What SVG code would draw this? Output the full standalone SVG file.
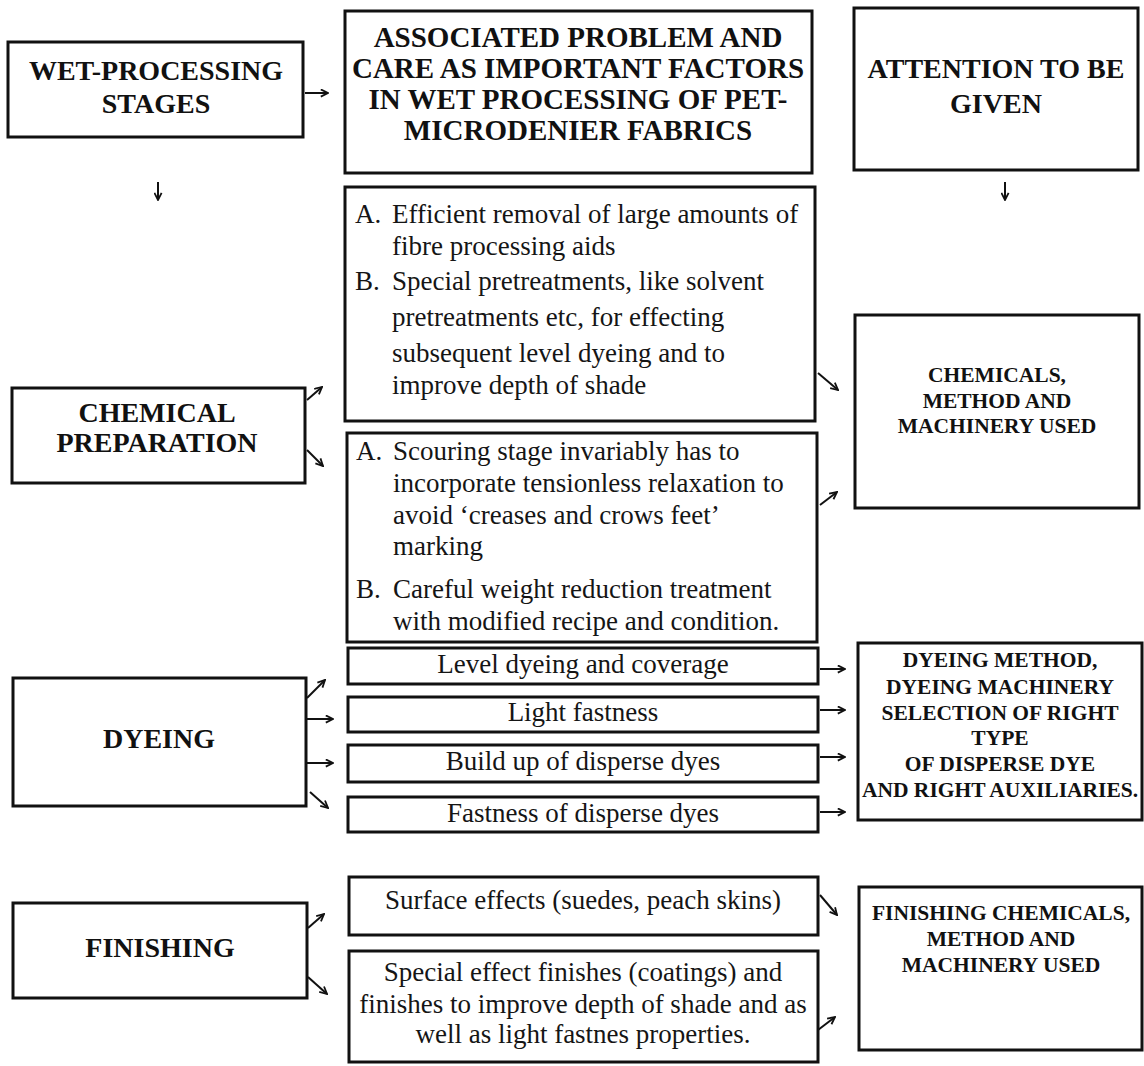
<svg xmlns="http://www.w3.org/2000/svg" width="1144" height="1066" viewBox="0 0 1144 1066">
<style>
.box{fill:#fff;stroke:#111;stroke-width:3}
.h{font-family:"Liberation Serif","Times New Roman",serif;font-weight:bold;fill:#111;text-anchor:middle}
.h28{font-size:28px}
.h29{font-size:29px}
.h21{font-size:21.5px}
.b{font-family:"Liberation Serif","Times New Roman",serif;font-size:27px;fill:#151515}
.c{text-anchor:middle}
.con line{stroke:#111;stroke-width:2;fill:none;marker-end:url(#ah)}
</style>
<defs>
<marker id="ah" viewBox="0 0 10 10" refX="9" refY="5" markerWidth="9" markerHeight="9" markerUnits="userSpaceOnUse" orient="auto">
<path d="M1,1 L9,5 L1,9" fill="none" stroke="#111" stroke-width="2"/>
</marker>
</defs>
<rect width="1144" height="1066" fill="#fff"/>

<g id="wet-processing-stages">
<rect class="box" x="8" y="42" width="295" height="95"/>
<text class="h h28" x="156" y="80">WET-PROCESSING</text>
<text class="h h28" x="156" y="113">STAGES</text>
</g>

<g id="associated-problem">
<rect class="box" x="345" y="11" width="467" height="162"/>
<text class="h h29" x="578" y="47">ASSOCIATED PROBLEM AND</text>
<text class="h h29" x="578" y="78">CARE AS IMPORTANT FACTORS</text>
<text class="h h29" x="578" y="109">IN WET PROCESSING OF PET-</text>
<text class="h h29" x="578" y="140">MICRODENIER FABRICS</text>
</g>

<g id="attention">
<rect class="box" x="854" y="8" width="284" height="162"/>
<text class="h h28" x="996" y="78">ATTENTION TO BE</text>
<text class="h h28" x="996" y="113">GIVEN</text>
</g>

<g id="chemical-preparation">
<rect class="box" x="12" y="388" width="293" height="95"/>
<text class="h h28" x="157" y="422">CHEMICAL</text>
<text class="h h28" x="157" y="452">PREPARATION</text>
</g>

<g id="prep-box-1">
<rect class="box" x="345" y="187" width="470" height="234"/>
<text class="b" x="355" y="223">A.</text>
<text class="b" x="392" y="223">Efficient removal of large amounts of</text>
<text class="b" x="392" y="255">fibre processing aids</text>
<text class="b" x="355" y="290">B.</text>
<text class="b" x="392" y="290">Special pretreatments, like solvent</text>
<text class="b" x="392" y="326">pretreatments etc, for effecting</text>
<text class="b" x="392" y="362">subsequent level dyeing and to</text>
<text class="b" x="392" y="394">improve depth of shade</text>
</g>

<g id="prep-box-2">
<rect class="box" x="347" y="433" width="470" height="209"/>
<text class="b" x="356" y="460">A.</text>
<text class="b" x="393" y="460">Scouring stage invariably has to</text>
<text class="b" x="393" y="492">incorporate tensionless relaxation to</text>
<text class="b" x="393" y="524">avoid ‘creases and crows feet’</text>
<text class="b" x="393" y="555">marking</text>
<text class="b" x="356" y="598">B.</text>
<text class="b" x="393" y="598">Careful weight reduction treatment</text>
<text class="b" x="393" y="630">with modified recipe and condition.</text>
</g>

<g id="chemicals-method">
<rect class="box" x="855" y="315" width="284" height="193"/>
<text class="h h21" x="997" y="382">CHEMICALS,</text>
<text class="h h21" x="997" y="408">METHOD AND</text>
<text class="h h21" x="997" y="433">MACHINERY USED</text>
</g>

<g id="dyeing">
<rect class="box" x="13" y="678" width="293" height="128"/>
<text class="h h28" x="159" y="748">DYEING</text>
</g>

<g id="level-dyeing">
<rect class="box" x="348" y="648" width="470" height="36"/>
<text class="b c" x="583" y="673">Level dyeing and coverage</text>
</g>
<g id="light-fastness">
<rect class="box" x="348" y="697" width="470" height="35"/>
<text class="b c" x="583" y="721">Light fastness</text>
</g>
<g id="build-up">
<rect class="box" x="348" y="745" width="470" height="37"/>
<text class="b c" x="583" y="770">Build up of disperse dyes</text>
</g>
<g id="fastness-disperse">
<rect class="box" x="348" y="797" width="470" height="35"/>
<text class="b c" x="583" y="822">Fastness of disperse dyes</text>
</g>

<g id="dyeing-method">
<rect class="box" x="858" y="643" width="284" height="177"/>
<text class="h h21" x="1000" y="667">DYEING METHOD,</text>
<text class="h h21" x="1000" y="694">DYEING MACHINERY</text>
<text class="h h21" x="1000" y="720">SELECTION OF RIGHT</text>
<text class="h h21" x="1000" y="745">TYPE</text>
<text class="h h21" x="1000" y="771">OF DISPERSE DYE</text>
<text class="h h21" x="1000" y="797">AND RIGHT AUXILIARIES.</text>
</g>

<g id="finishing">
<rect class="box" x="13" y="903" width="294" height="95"/>
<text class="h h28" x="160" y="957">FINISHING</text>
</g>

<g id="surface-effects">
<rect class="box" x="349" y="877" width="469" height="58"/>
<text class="b c" x="583" y="909">Surface effects (suedes, peach skins)</text>
</g>

<g id="special-effects">
<rect class="box" x="349" y="951" width="469" height="111"/>
<text class="b c" x="583" y="981">Special effect finishes (coatings) and</text>
<text class="b c" x="583" y="1013">finishes to improve depth of shade and as</text>
<text class="b c" x="583" y="1043">well as light fastnes properties.</text>
</g>

<g id="finishing-chemicals">
<rect class="box" x="859" y="887" width="283" height="163"/>
<text class="h h21" x="1001" y="920">FINISHING CHEMICALS,</text>
<text class="h h21" x="1001" y="946">METHOD AND</text>
<text class="h h21" x="1001" y="972">MACHINERY USED</text>
</g>

<g id="connectors" class="con">
<line x1="305" y1="93" x2="328" y2="93"/>
<line x1="158" y1="182" x2="158" y2="200"/>
<line x1="1005" y1="182" x2="1005" y2="200"/>
<line x1="307" y1="400" x2="322" y2="387"/>
<line x1="307" y1="450" x2="323" y2="466"/>
<line x1="818" y1="373" x2="838" y2="390"/>
<line x1="820" y1="505" x2="837" y2="492"/>
<line x1="307" y1="698" x2="325" y2="680"/>
<line x1="307" y1="719" x2="333" y2="719"/>
<line x1="307" y1="763" x2="333" y2="763"/>
<line x1="310" y1="792" x2="328" y2="808"/>
<line x1="820" y1="669" x2="845" y2="669"/>
<line x1="820" y1="710" x2="845" y2="710"/>
<line x1="820" y1="757" x2="845" y2="757"/>
<line x1="820" y1="812" x2="845" y2="812"/>
<line x1="308" y1="928" x2="324" y2="914"/>
<line x1="308" y1="977" x2="327" y2="994"/>
<line x1="820" y1="895" x2="837" y2="915"/>
<line x1="818" y1="1030" x2="835" y2="1017"/>
</g>
</svg>
